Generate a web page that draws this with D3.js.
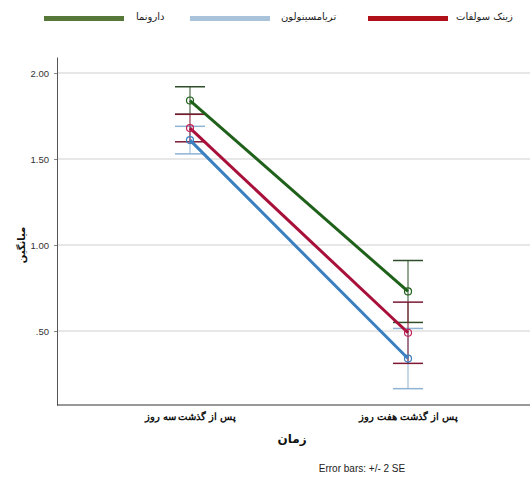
<!DOCTYPE html>
<html>
<head>
<meta charset="utf-8">
<script src="https://cdn.jsdelivr.net/npm/d3@7"></script>
<style>
  body { margin: 0; background: #fff; }
  svg { display: block; font-family: "DejaVu Sans", "Noto Sans", sans-serif; }
</style>
</head>
<body>
<div id="chart"></div>
<script>
// Data
const times = ['پس از گذشت سه روز', 'پس از گذشت هفت روز'];
const groups = ['دارونما', 'تریامسینولون', 'زینک سولفات'];
const means = [
    [1.84, 0.73],   // دارونما
    [1.61, 0.34],   // تریامسینولون
    [1.68, 0.49]    // زینک سولفات
];
const twoSE = [
    [0.08, 0.18],
    [0.08, 0.175],
    [0.08, 0.178]
];
const yTicks = [0.5, 1.0, 1.5, 2.0];

const lineColors = ['#1f611b', '#3a7fc0', '#a8103a'];
const capColors = ['#2f4f2a', '#8fb3d3', '#7c1830'];
const legendColors = ['#56793a', '#a9c3da', '#b0101a'];

const width = 530, height = 481;
const margin = { top: 57, right: 0, bottom: 76, left: 57 };

const svg = d3.select('#chart')
    .append('svg')
    .attr('width', width)
    .attr('height', height);

const x = d3.scalePoint()
    .domain(times)
    .range([margin.left, width + 11])
    .padding(0.61);

const y = d3.scaleLinear()
    .domain([0.07, 2.093])
    .range([height - margin.bottom, margin.top]);

const fmt = v => d3.format('.2f')(v).replace(/^0/, '');

// Gridlines
svg.append('g')
    .selectAll('line')
    .data(yTicks)
    .enter()
    .append('line')
    .attr('x1', margin.left)
    .attr('x2', width)
    .attr('y1', d => y(d))
    .attr('y2', d => y(d))
    .attr('stroke', '#cfcfcf')
    .attr('stroke-width', 1);

// Y axis
const yAxis = svg.append('g')
    .attr('transform', `translate(${margin.left},0)`)
    .call(d3.axisLeft(y).tickValues(yTicks).tickFormat(fmt).tickSize(3).tickSizeOuter(0).tickPadding(5));
yAxis.select('.domain').attr('stroke', '#555');
yAxis.selectAll('.tick line').attr('stroke', '#888');
yAxis.selectAll('text').attr('font-size', 9.5).attr('fill', '#333')
    .attr('font-family', '"Liberation Sans", Arial, sans-serif');

// X axis
const xAxis = svg.append('g')
    .attr('transform', `translate(0,${height - margin.bottom})`)
    .call(d3.axisBottom(x).tickSize(0).tickPadding(8));
xAxis.select('.domain').attr('stroke', '#333').attr('d', `M${margin.left},0H${width}`);
xAxis.selectAll('text').attr('font-size', 10).attr('font-weight', 'bold').attr('fill', '#111');

// Axis titles
svg.append('text')
    .attr('transform', `translate(25,${y(1.0)}) rotate(-90)`)
    .attr('text-anchor', 'middle')
    .attr('font-size', 10)
    .attr('font-weight', 'bold')
    .attr('fill', '#111')
    .text('میانگین');

svg.append('text')
    .attr('x', 292)
    .attr('y', 443)
    .attr('text-anchor', 'middle')
    .attr('font-size', 12)
    .attr('font-weight', 'bold')
    .attr('fill', '#111')
    .text('زمان');

svg.append('text')
    .attr('x', 362)
    .attr('y', 472)
    .attr('text-anchor', 'middle')
    .attr('font-size', 10)
    .attr('fill', '#222')
    .attr('font-family', '"Liberation Sans", Arial, sans-serif')
    .text('Error bars: +/- 2 SE');

// Error bars
groups.forEach((g, gi) => {
    const eb = svg.append('g');
    times.forEach((t, ti) => {
        const m = means[gi][ti], e = twoSE[gi][ti];
        const cx = x(t);
        eb.append('line')
            .attr('x1', cx).attr('x2', cx)
            .attr('y1', y(m + e)).attr('y2', y(m - e))
            .attr('stroke', capColors[gi]).attr('stroke-width', 1);
        [m + e, m - e].forEach(v => {
            eb.append('line')
                .attr('x1', cx - 15).attr('x2', cx + 15)
                .attr('y1', y(v)).attr('y2', y(v))
                .attr('stroke', capColors[gi]).attr('stroke-width', 1.5);
        });
    });
});

// Mean lines and markers
const line = d3.line()
    .x((d, i) => x(times[i]))
    .y(d => y(d));

groups.forEach((g, gi) => {
    svg.append('path')
        .datum(means[gi])
        .attr('d', line)
        .attr('fill', 'none')
        .attr('stroke', lineColors[gi])
        .attr('stroke-width', 3);

    svg.append('g')
        .selectAll('circle')
        .data(means[gi])
        .enter()
        .append('circle')
        .attr('cx', (d, i) => x(times[i]))
        .attr('cy', d => y(d))
        .attr('r', 3.5)
        .attr('fill', 'none')
        .attr('stroke', gi === 2 ? '#c0205a' : lineColors[gi])
        .attr('stroke-width', 1.2);
});

// Legend
const legendPos = [
    { swatch: 44, text: 136 },
    { swatch: 190, text: 281 },
    { swatch: 368, text: 456 }
];
const legend = svg.append('g');
groups.forEach((g, gi) => {
    legend.append('rect')
        .attr('x', legendPos[gi].swatch)
        .attr('y', 16)
        .attr('width', 80)
        .attr('height', 5)
        .attr('fill', legendColors[gi]);
    legend.append('text')
        .attr('x', legendPos[gi].text)
        .attr('y', 20)
        .attr('font-size', 10)
        .attr('fill', '#222')
        .attr('text-anchor', 'start')
        .text(g);
});
</script>
</body>
</html>
